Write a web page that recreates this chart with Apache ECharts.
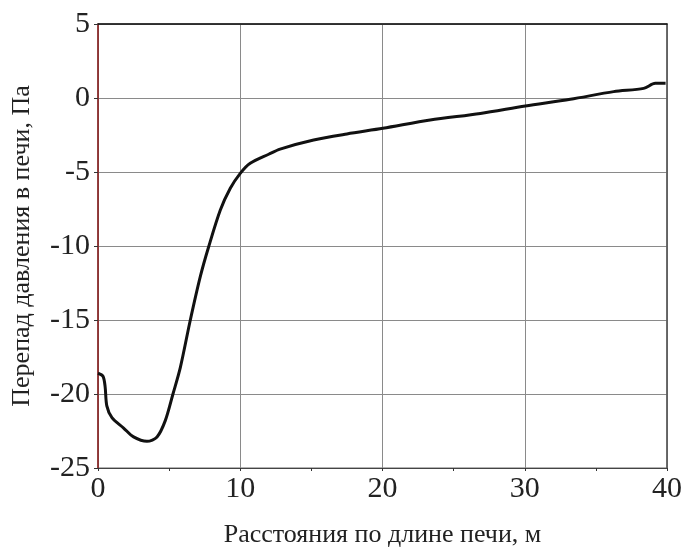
<!DOCTYPE html>
<html>
<head>
<meta charset="utf-8">
<script src="https://cdn.jsdelivr.net/npm/echarts@6/dist/echarts.min.js"></script>
<style>html,body{margin:0;padding:0;background:#fff;}#c{width:685px;height:549px;}</style>
</head>
<body>
<div id="c"></div>
<script>
var distance = [0, 0.35, 0.5, 0.62, 0.98, 1.8, 2.5, 3.44, 4.15, 4.73, 5.27, 5.79, 6.49, 7.19, 7.78, 8.6, 9.3, 10.0, 10.7, 12.0, 12.8, 15.16, 17.5, 20.03, 23.35, 26.88, 30.04, 33.2, 36.25, 38.36, 39.18, 39.9];
var pressure = [-18.6, -18.8, -19.5, -20.8, -21.6, -22.3, -22.9, -23.2, -22.9, -21.8, -20.0, -18.2, -15.0, -12.07, -10.05, -7.57, -6.1, -5.09, -4.41, -3.8, -3.45, -2.84, -2.43, -2.05, -1.49, -1.04, -0.54, -0.09, 0.43, 0.65, 0.99, 0.99];
var xTitle = 'Расстояния по длине печи, м';
var yTitle = 'Перепад давления в печи, Па';

var data = distance.map(function (x, i) { return [x, pressure[i]]; });
var font = 'Liberation Serif';
var chart = echarts.init(document.getElementById('c'));
chart.setOption({
  animation: false,
  backgroundColor: '#fff',
  grid: { left: 98, right: 18, top: 24, bottom: 81, containLabel: false, outerBoundsMode: 'none', show: true, borderColor: '#666', borderWidth: 1 },
  xAxis: [{
    type: 'value', min: 0, max: 40, interval: 10,
    name: xTitle, nameLocation: 'middle', nameGap: 54,
    nameTextStyle: { fontFamily: font, fontSize: 26, color: '#222' },
    axisLine: { onZero: false, lineStyle: { color: '#444', width: 1 } },
    axisTick: { show: true, length: 3, lineStyle: { color: '#333' } },
    minorTick: { show: true, splitNumber: 2, length: 3, lineStyle: { color: '#333' } },
    axisLabel: { fontFamily: font, fontSize: 30, color: '#222', margin: 6 },
    splitLine: { show: true, lineStyle: { color: '#8a8a8a', width: 1 } }
  }, {
    type: 'value', position: 'top', min: 0, max: 40, interval: 10,
    axisLine: { show: true, onZero: false, lineStyle: { color: '#111', width: 1.5 } },
    axisTick: { show: false }, axisLabel: { show: false }, splitLine: { show: false }
  }],
  yAxis: [{
    type: 'value', min: -25, max: 5, interval: 5,
    name: yTitle, nameLocation: 'middle', nameGap: 63, nameRotate: 90,
    nameTextStyle: { fontFamily: font, fontSize: 26, color: '#222' },
    axisLine: { show: true, onZero: false, lineStyle: { color: '#8b1a1a', width: 1.5 } },
    axisTick: { show: true, length: 4, lineStyle: { color: '#333' } },
    axisLabel: { fontFamily: font, fontSize: 30, color: '#222', margin: 8 },
    splitLine: { show: true, lineStyle: { color: '#8a8a8a', width: 1 } }
  }, {
    type: 'value', position: 'right', min: -25, max: 5, interval: 5,
    axisLine: { show: true, onZero: false, lineStyle: { color: '#555', width: 1.5 } },
    axisTick: { show: false }, axisLabel: { show: false }, splitLine: { show: false }
  }],
  series: [{
    type: 'line', data: data, smooth: 0.3, showSymbol: false,
    lineStyle: { color: '#111', width: 3 }
  }]
});
</script>
</body>
</html>
